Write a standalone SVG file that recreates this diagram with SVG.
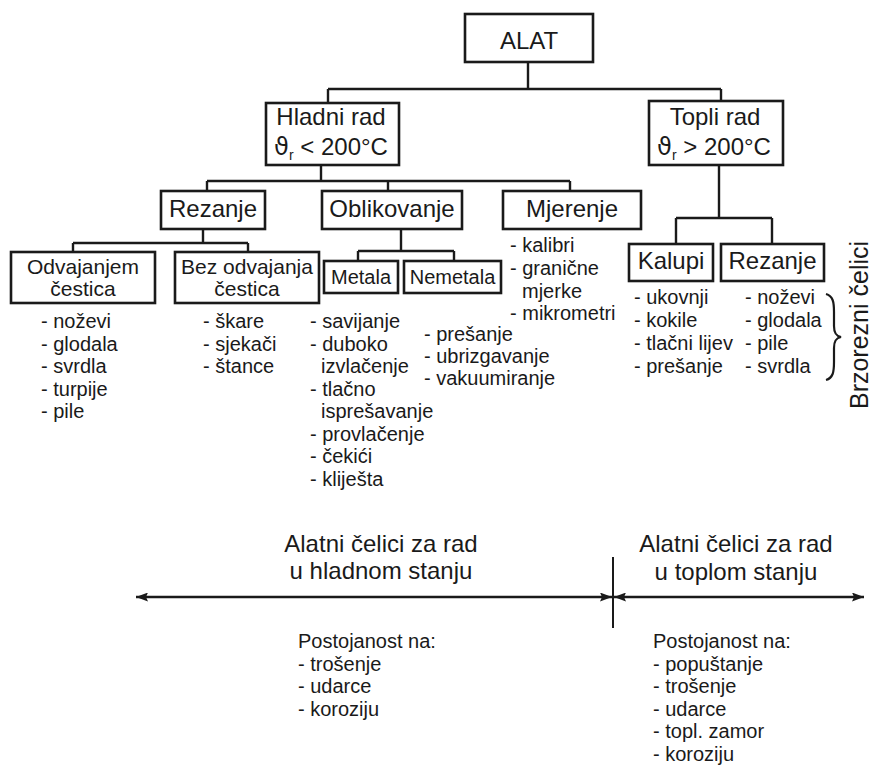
<svg xmlns="http://www.w3.org/2000/svg" width="875" height="766" viewBox="0 0 875 766">
<style>
.box{fill:#fff;stroke:#1a1a1a;stroke-width:2.6}
.ln{fill:none;stroke:#1a1a1a;stroke-width:2.4}
text{font-family:"Liberation Sans",Arial,sans-serif;fill:#1a1a1a}
.t24{font-size:24px;text-anchor:middle}
.t21{font-size:21px;text-anchor:middle}
.t20m{font-size:20px;text-anchor:middle}
.l20{font-size:20px}
.sym{font-family:"DejaVu Sans","Liberation Sans",sans-serif}
</style>
<defs>
<marker id="ah" viewBox="0 0 12 9" refX="12" refY="4.5" markerWidth="12" markerHeight="9" markerUnits="userSpaceOnUse" orient="auto-start-reverse">
<path d="M0,0 L12,4.5 L0,9 L2,4.5 Z" fill="#1a1a1a"/>
</marker>
</defs>
<rect width="875" height="766" fill="#fff"/>

<g id="connectors">
<path class="ln" d="M528,62 V89 M328,89 H721 M328,89 V103 M721,89 V101"/>
<path class="ln" d="M321,165 V181 M207,181 H570 M207,181 V191 M388,181 V191 M570,181 V191"/>
<path class="ln" d="M203,229 V243 M73,243 H248 M73,243 V252 M248,243 V252"/>
<path class="ln" d="M401,229 V251 M358,251 H454 M358,251 V261 M454,251 V261"/>
<path class="ln" d="M719,165 V218 M676,218 H772 M676,218 V244 M772,218 V244"/>
</g>

<g id="alat"><rect class="box" x="465" y="14" width="128" height="48"/><text class="t24" x="529" y="49">ALAT</text></g>
<g id="hladni"><rect class="box" x="266" y="103" width="133" height="62"/>
<text class="t24" x="331" y="125">Hladni rad</text>
<text class="t24" x="331" y="155"><tspan class="sym">ϑ</tspan><tspan font-size="14" dy="5">r</tspan><tspan dy="-5"> &lt; 200°C</tspan></text></g>
<g id="topli"><rect class="box" x="649" y="101" width="134" height="64"/>
<text class="t24" x="715" y="125">Topli rad</text>
<text class="t24" x="714" y="155"><tspan class="sym">ϑ</tspan><tspan font-size="14" dy="5">r</tspan><tspan dy="-5"> &gt; 200°C</tspan></text></g>
<g id="rezanje"><rect class="box" x="161" y="191" width="104" height="38"/><text class="t24" x="213" y="217">Rezanje</text></g>
<g id="oblikovanje"><rect class="box" x="322" y="191" width="140" height="38"/><text class="t24" x="392" y="217">Oblikovanje</text></g>
<g id="mjerenje"><rect class="box" x="503" y="191" width="138" height="38"/><text class="t24" x="572" y="217">Mjerenje</text></g>
<g id="odvajanjem"><rect class="box" x="11" y="252" width="144" height="51"/><text class="t21" x="83" y="274">Odvajanjem</text><text class="t21" x="83" y="296">čestica</text></g>
<g id="bezodvajanja"><rect class="box" x="175" y="252" width="144" height="51"/><text class="t21" x="247" y="274">Bez odvajanja</text><text class="t21" x="247" y="296">čestica</text></g>
<g id="metala"><rect class="box" x="324" y="261" width="74" height="32"/><text class="t20m" x="361" y="284">Metala</text></g>
<g id="nemetala"><rect class="box" x="404" y="261" width="97" height="32"/><text class="t20m" x="452.5" y="284">Nemetala</text></g>
<g id="kalupi"><rect class="box" x="629" y="244" width="84" height="37"/><text class="t24" x="671" y="269">Kalupi</text></g>
<g id="rezanje2"><rect class="box" x="721" y="244" width="103" height="37"/><text class="t24" x="772.5" y="269">Rezanje</text></g>

<g id="lists">
<text class="l20" x="41" y="328">- noževi</text>
<text class="l20" x="41" y="350.5">- glodala</text>
<text class="l20" x="41" y="373">- svrdla</text>
<text class="l20" x="41" y="395.5">- turpije</text>
<text class="l20" x="41" y="418">- pile</text>

<text class="l20" x="203" y="328">- škare</text>
<text class="l20" x="203" y="350.5">- sjekači</text>
<text class="l20" x="203" y="373">- štance</text>

<text class="l20" x="310" y="328">- savijanje</text>
<text class="l20" x="310" y="350.5">- duboko</text>
<text class="l20" x="321" y="373">izvlačenje</text>
<text class="l20" x="310" y="395.5">- tlačno</text>
<text class="l20" x="321" y="418">isprešavanje</text>
<text class="l20" x="310" y="440.5">- provlačenje</text>
<text class="l20" x="310" y="463">- čekići</text>
<text class="l20" x="310" y="485.5">- kliješta</text>

<text class="l20" x="424" y="341">- prešanje</text>
<text class="l20" x="424" y="363">- ubrizgavanje</text>
<text class="l20" x="424" y="385">- vakuumiranje</text>

<text class="l20" x="510" y="252">- kalibri</text>
<text class="l20" x="510" y="275">- granične</text>
<text class="l20" x="522" y="298">mjerke</text>
<text class="l20" x="510" y="320">- mikrometri</text>

<text class="l20" x="634" y="304">- ukovnji</text>
<text class="l20" x="634" y="327">- kokile</text>
<text class="l20" x="634" y="350">- tlačni lijev</text>
<text class="l20" x="634" y="373">- prešanje</text>

<text class="l20" x="745" y="304">- noževi</text>
<text class="l20" x="745" y="327">- glodala</text>
<text class="l20" x="745" y="350">- pile</text>
<text class="l20" x="745" y="373">- svrdla</text>
</g>

<g id="brace">
<path class="ln" style="stroke-width:2.2" d="M826,294 C833,296 834,302 834,312 L834,326 C834,333 836,336 841,337 C836,338 834,341 834,348 L834,362 C834,372 833,378 826,380"/>
<text font-size="25" text-anchor="middle" transform="translate(868,325) rotate(-90)">Brzorezni čelici</text>
</g>

<g id="scale">
<path class="ln" d="M136,597 H612" marker-start="url(#ah)" marker-end="url(#ah)"/>
<path class="ln" d="M614,597 H864" marker-start="url(#ah)" marker-end="url(#ah)"/>
<path class="ln" style="stroke-width:2" d="M613,557 V628"/>
</g>

<g id="cold">
<text class="t24" x="381" y="552">Alatni čelici za rad</text>
<text class="t24" x="381" y="579">u hladnom stanju</text>
<text class="l20" x="298" y="648">Postojanost na:</text>
<text class="l20" x="298" y="670.5">- trošenje</text>
<text class="l20" x="298" y="693">- udarce</text>
<text class="l20" x="298" y="715.5">- koroziju</text>
</g>
<g id="hot">
<text class="t24" x="736" y="552">Alatni čelici za rad</text>
<text class="t24" x="736" y="580">u toplom stanju</text>
<text class="l20" x="653" y="648">Postojanost na:</text>
<text class="l20" x="653" y="670.5">- popuštanje</text>
<text class="l20" x="653" y="693">- trošenje</text>
<text class="l20" x="653" y="715.5">- udarce</text>
<text class="l20" x="653" y="738">- topl. zamor</text>
<text class="l20" x="653" y="760.5">- koroziju</text>
</g>
</svg>
